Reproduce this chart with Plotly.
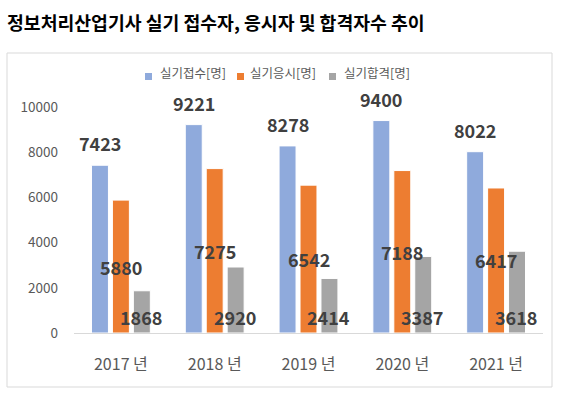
import plotly.graph_objects as go

years = ["2017 년", "2018 년", "2019 년", "2020 년", "2021 년"]
applied = [7423, 9221, 8278, 9400, 8022]
taken = [5880, 7275, 6542, 7188, 6417]
passed = [1868, 2920, 2414, 3387, 3618]
series_names = ["실기접수[명]", "실기응시[명]", "실기합격[명]"]
series_colors = ["#8FAADC", "#ED7D31", "#A5A5A5"]
y_ticks = [0, 2000, 4000, 6000, 8000, 10000]

W, H = 562, 396
FONT = "Noto Sans CJK KR"
LABEL_COLOR = "#404040"
LABEL_FONT = dict(family=FONT, size=18, color=LABEL_COLOR, weight="bold")

fig = go.Figure()
for name, vals, col in zip(series_names, [applied, taken, passed], series_colors):
    fig.add_trace(go.Bar(x=years, y=vals, name=name, showlegend=False,
                         marker=dict(color=col, line=dict(color="white", width=1)),
                         cliponaxis=False))

annotations = []
for yr, v in zip(years, applied):
    annotations.append(dict(x=yr, y=v, xref="x", yref="y", text=str(v), showarrow=False,
                            xshift=-21, yshift=22, yanchor="middle", font=LABEL_FONT))
for yr, v in zip(years, taken):
    annotations.append(dict(x=yr, y=v / 2, xref="x", yref="y", text=str(v), showarrow=False,
                            xshift=0, yshift=0, yanchor="middle", font=LABEL_FONT))
for yr, v in zip(years, passed):
    annotations.append(dict(x=yr, y=0, xref="x", yref="y", text=str(v), showarrow=False,
                            xshift=20, yshift=16, yanchor="middle", font=LABEL_FONT))

# legend (drawn manually to match the compact spreadsheet-style legend)
legend_sq_x = [145, 237, 329]
legend_txt_x = [158, 248, 342]
shapes = [dict(type="rect", xref="paper", yref="paper",
               x0=7 / W, x1=552 / W, y0=1 - 387 / H, y1=1 - 53 / H,
               line=dict(color="#D9D9D9", width=1), fillcolor="rgba(0,0,0,0)", layer="below")]
for name, col, sx, tx in zip(series_names, series_colors, legend_sq_x, legend_txt_x):
    shapes.append(dict(type="rect", xref="paper", yref="paper",
                       x0=sx / W, x1=(sx + 7) / W, y0=1 - 80 / H, y1=1 - 73 / H,
                       line=dict(width=0), fillcolor=col))
    annotations.append(dict(x=tx / W, y=1 - 72.5 / H, xref="paper", yref="paper",
                            text=name, showarrow=False, xanchor="left", yanchor="middle",
                            font=dict(family=FONT, size=12.5, color="#595959")))

fig.update_layout(
    width=W, height=H,
    margin=dict(l=0, r=0, t=0, b=0, autoexpand=False),
    paper_bgcolor="white", plot_bgcolor="white",
    font=dict(family=FONT, color="#595959"),
    barmode="group", bargap=0.33, bargroupgap=0.19,
    showlegend=False,
    title=dict(text="<b>정보처리산업기사 실기 접수자, 응시자 및 합격자수 추이</b>",
               x=7 / W, xanchor="left", y=1 - 23.5 / H, yanchor="middle",
               font=dict(family=FONT, size=18.3, color="black")),
    xaxis=dict(domain=[74 / W, 543 / W], showline=True, linecolor="#D9D9D9", linewidth=1,
               ticks="", tickfont=dict(family=FONT, size=16, color="#595959"),
               ticklabelstandoff=17, showgrid=False, fixedrange=True, automargin=False),
    yaxis=dict(domain=[63 / H, 289 / H], range=[0, 10000], tickvals=y_ticks, tickformat="d",
               showgrid=False, zeroline=False, showline=False, ticks="",
               tickfont=dict(family=FONT, size=13.5, color="#595959"),
               ticklabelstandoff=15, fixedrange=True, automargin=False),
    annotations=annotations,
    shapes=shapes,
)
fig.write_html("out.html", config={"displayModeBar": False},
               post_script="document.body.style.margin='0';")
